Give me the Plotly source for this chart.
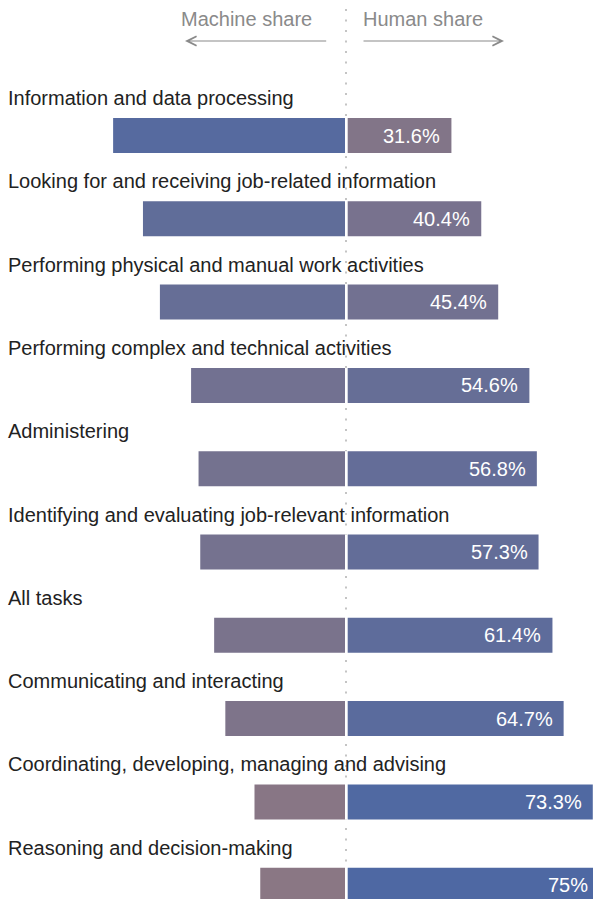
import plotly.graph_objects as go

categories = [
    "Information and data processing",
    "Looking for and receiving job-related information",
    "Performing physical and manual work activities",
    "Performing complex and technical activities",
    "Administering",
    "Identifying and evaluating job-relevant information",
    "All tasks",
    "Communicating and interacting",
    "Coordinating, developing, managing and advising",
    "Reasoning and decision-making",
]
human_share = [31.6, 40.4, 45.4, 54.6, 56.8, 57.3, 61.4, 64.7, 73.3, 75]
machine_share = [68.4, 59.6, 54.6, 45.4, 43.2, 42.7, 38.6, 35.3, 26.7, 25]
header_left = "Machine share"
header_right = "Human share"

VW, H = 593, 899      # visible window
W = 620               # figure is a bit wider; the window crops the overflow
FONT = "Liberation Sans, Arial, Helvetica, sans-serif"
colorscale = [[0, "#8a7784"], [1, "#4e68a3"]]
BW = 0.42             # bar thickness in row units

idx = list(range(len(categories)))

# layout geometry (pixels)
s = 3.39              # px per percentage point
m_end = 345.0         # right end of machine bars
h_start = 347.7       # visible start of human bars
h_zero = 344.3        # where 0 % of human bars would sit
centre = 346.0        # dotted divider

fig = go.Figure()
fig.add_trace(go.Bar(
    y=idx, x=[-m for m in machine_share], orientation="h", width=BW,
    xaxis="x", yaxis="y",
    marker=dict(color=machine_share, colorscale=colorscale, cmin=25, cmax=75, line=dict(width=0)),
    hoverinfo="skip", showlegend=False,
))
fig.add_trace(go.Bar(
    y=idx, x=human_share, orientation="h", width=BW,
    xaxis="x2", yaxis="y",
    marker=dict(color=human_share, colorscale=colorscale, cmin=25, cmax=75, line=dict(width=0)),
    hoverinfo="skip", showlegend=False,
))

annotations = []
for i, (cat, h) in enumerate(zip(categories, human_share)):
    annotations.append(dict(
        x=6 / W, xref="paper", xanchor="left",
        y=i - 0.45, yref="y", yanchor="middle",
        text=cat, showarrow=False,
        font=dict(family=FONT, size=20, color="#222222"),
    ))
    annotations.append(dict(
        x=h, xref="x2", xanchor="right", xshift=-9,
        y=i, yref="y", yanchor="middle",
        text=f"{h:g}%", showarrow=False,
        font=dict(family=FONT, size=20, color="white"),
    ))

# headers
annotations.append(dict(
    x=centre / W, xref="paper", xanchor="right", xshift=-32,
    y=1 - 19 / H, yref="paper", yanchor="middle",
    text=header_left, showarrow=False,
    font=dict(family=FONT, size=20, color="#8a8a8a"),
))
annotations.append(dict(
    x=centre / W, xref="paper", xanchor="left", xshift=15,
    y=1 - 19 / H, yref="paper", yanchor="middle",
    text=header_right, showarrow=False,
    font=dict(family=FONT, size=20, color="#8a8a8a"),
))
# arrows
annotations.append(dict(
    x=185 / W, xref="paper", y=1 - 41 / H, yref="paper",
    ax=142.7, ay=0, text="", showarrow=True,
    arrowhead=5, arrowsize=1.7, arrowwidth=1.1, arrowcolor="#8a8a8a",
))
annotations.append(dict(
    x=504 / W, xref="paper", y=1 - 41 / H, yref="paper",
    ax=-142, ay=0, text="", showarrow=True,
    arrowhead=5, arrowsize=1.7, arrowwidth=1.1, arrowcolor="#8a8a8a",
))

shapes = [dict(
    type="line", xref="paper", x0=centre / W, x1=centre / W,
    yref="paper", y0=1 - 9 / H, y1=0,
    line=dict(color="#c4c4c4", width=2, dash="2px,8.5px"), layer="below",
)]
# keep the divider hidden in the gap between the two halves of each bar
for i in idx:
    shapes.append(dict(
        type="rect", xref="paper", x0=(m_end - 0.5) / W, x1=(h_start + 0.5) / W,
        yref="y", y0=i - BW / 2, y1=i + BW / 2,
        fillcolor="white", line=dict(width=0), layer="below",
    ))

h0 = (h_start - h_zero) / s
fig.update_layout(
    width=W, height=H,
    margin=dict(l=0, r=0, t=0, b=0),
    paper_bgcolor="white", plot_bgcolor="rgba(0,0,0,0)",
    barmode="overlay",
    xaxis=dict(domain=[0, m_end / W], range=[-m_end / s, 0], visible=False, fixedrange=True),
    xaxis2=dict(domain=[h_start / W, 1], range=[h0, h0 + (W - h_start) / s],
                visible=False, fixedrange=True, anchor="y"),
    yaxis=dict(range=[9 + (H - 885.2) / 83.3, -135.5 / 83.3], visible=False, fixedrange=True),
    annotations=annotations,
    shapes=shapes,
    font=dict(family=FONT),
)

post = (
    "document.documentElement.style.margin='0';"
    "document.documentElement.style.overflow='hidden';"
    "document.body.style.margin='0';"
    "document.body.style.overflow='hidden';"
)
fig.write_html("out.html", config={"displayModeBar": False}, post_script=post)
